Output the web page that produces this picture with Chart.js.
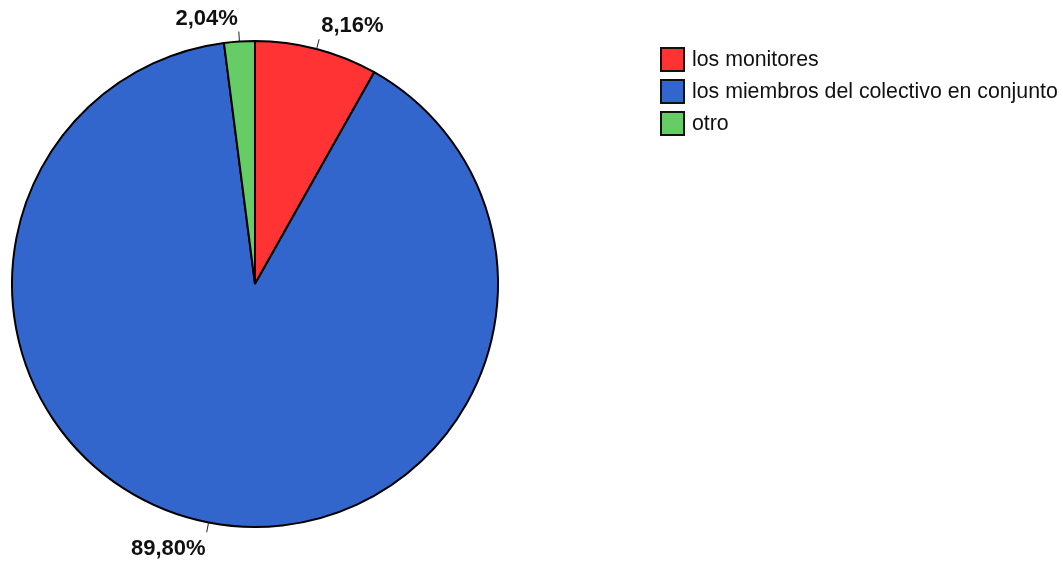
<!DOCTYPE html>
<html>
<head>
<meta charset="utf-8">
<script src="https://cdn.jsdelivr.net/npm/chart.js"></script>
<style>
    body { margin: 0; background: #fff; font-family: Arial, "Liberation Sans", sans-serif; }
    #wrap { position: relative; width: 1063px; height: 563px; }
    .legend { position: absolute; left: 660px; top: 43px; }
    .item { display: flex; align-items: center; height: 32px; font-size: 21.3px; color: #111; white-space: nowrap; }
    .box { width: 21px; height: 21px; border: 2px solid #111; margin-right: 7px; flex: none; }
</style>
</head>
<body>
<div id="wrap">
    <canvas id="pie"></canvas>
    <div class="legend" id="legend"></div>
</div>
<script>
    // Datos
    const categorias = ['los monitores', 'los miembros del colectivo en conjunto', 'otro'];
    const porcentajes = [8.16, 89.80, 2.04];
    const colores = ['#FF3333', '#3366CC', '#66CC66'];

    // leyenda en html
    const legend = document.getElementById('legend');
    categorias.forEach((c, i) => {
        legend.innerHTML += '<div class="item"><div class="box" style="background:' + colores[i] + '"></div>' + c + '</div>';
    });

    // etiquetas fuera del pastel con linea
    const etiquetas = {
        id: 'etiquetas',
        afterDatasetsDraw(chart) {
            const ctx = chart.ctx;
            const meta = chart.getDatasetMeta(0);
            ctx.save();
            ctx.font = 'bold 22px Arial, "Liberation Sans"';
            ctx.fillStyle = '#111';
            ctx.strokeStyle = '#222';
            ctx.lineWidth = 1;
            ctx.textBaseline = 'middle';
            meta.data.forEach((arc, i) => {
                const p = arc.getProps(['x', 'y', 'startAngle', 'endAngle', 'outerRadius'], true);
                const a = (p.startAngle + p.endAngle) / 2;
                const x1 = p.x + Math.cos(a) * p.outerRadius;
                const y1 = p.y + Math.sin(a) * p.outerRadius;
                const x2 = p.x + Math.cos(a) * (p.outerRadius + 10);
                const y2 = p.y + Math.sin(a) * (p.outerRadius + 10);
                ctx.beginPath();
                ctx.moveTo(x1, y1);
                ctx.lineTo(x2, y2);
                ctx.stroke();
                const txt = porcentajes[i].toFixed(2).replace('.', ',') + '%';
                const derecha = Math.cos(a) >= 0;
                const arriba = Math.sin(a) < 0;
                ctx.textAlign = derecha ? 'left' : 'right';
                ctx.fillText(txt, x2 + (derecha ? 2 : (arriba ? -1 : -1)), y2 + (arriba ? -13 : 17));
            });
            ctx.restore();
        }
    };

    const myPie = new Chart(document.getElementById('pie'), {
        type: 'pie',
        data: {
            labels: categorias,
            datasets: [{
                data: porcentajes,
                backgroundColor: colores,
                borderColor: '#000',
                borderWidth: 2
            }]
        },
        plugins: [etiquetas],
        options: {
            responsive: true,
            maintainAspectRatio: false,
            animation: false,
            layout: { padding: { left: 11, top: 40, right: 564, bottom: 35 } },
            plugins: {
                legend: { display: false },
                tooltip: { enabled: false }
            }
        }
    });
</script>
</body>
</html>
